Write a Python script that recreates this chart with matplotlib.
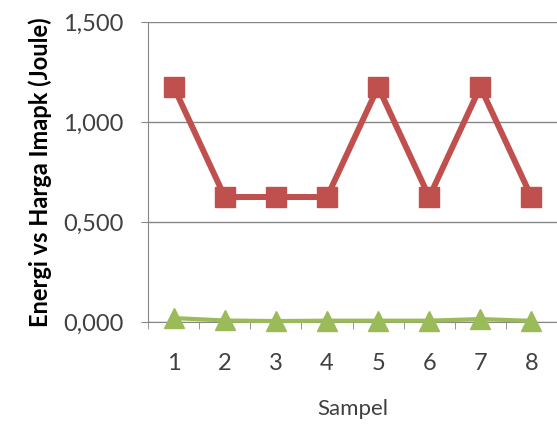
import matplotlib.pyplot as plt
from matplotlib.ticker import FuncFormatter

sampel = [1, 2, 3, 4, 5, 6, 7, 8]
energi = [1.175, 0.625, 0.625, 0.625, 1.175, 0.625, 1.175, 0.625]
imapk = [0.020, 0.008, 0.005, 0.007, 0.007, 0.007, 0.015, 0.006]
yticks = [0.0, 0.5, 1.0, 1.5]

plt.rcParams['font.family'] = ['Lato', 'DejaVu Sans']

fig = plt.figure(figsize=(5.57, 4.30), dpi=100)
ax = fig.add_axes([0.266, 0.251, 0.734, 0.698])

ax.plot(sampel, energi, color="#C0504D", lw=4.3, marker="s", ms=15, zorder=3, clip_on=False)
ax.plot(sampel, imapk, color="#9BBB59", lw=3, marker="^", ms=15, zorder=3, clip_on=False)

ax.set_xlim(0.5, 8.5)
ax.set_ylim(0, 1.5)
ax.set_yticks(yticks)
ax.yaxis.set_major_formatter(FuncFormatter(lambda v, p: f"{v:.3f}".replace(".", ",")))
ax.set_xticks(sampel)
ax.set_xticks([x + 0.5 for x in range(0, 9)], minor=True)
ax.tick_params(axis="x", which="major", length=0, pad=22, labelsize=17, colors="#404040")
ax.tick_params(axis="x", which="minor", length=5, color="#868686", direction="out")
ax.tick_params(axis="y", length=5, color="#868686", labelsize=17, labelcolor="#404040", pad=13)

ax.grid(axis="y", color="#868686", lw=1)
for s in ["top", "right"]:
    ax.spines[s].set_visible(False)
ax.spines["left"].set_color("#868686")
ax.spines["bottom"].set_color("#868686")
ax.set_axisbelow(True)

ax.set_xlabel("Sampel", fontsize=16, color="#404040", labelpad=18)
ax.set_ylabel("Energi vs Harga Imapk (Joule)", fontsize=17, fontweight="bold", labelpad=8)

fig.savefig("out.png", dpi=100)
